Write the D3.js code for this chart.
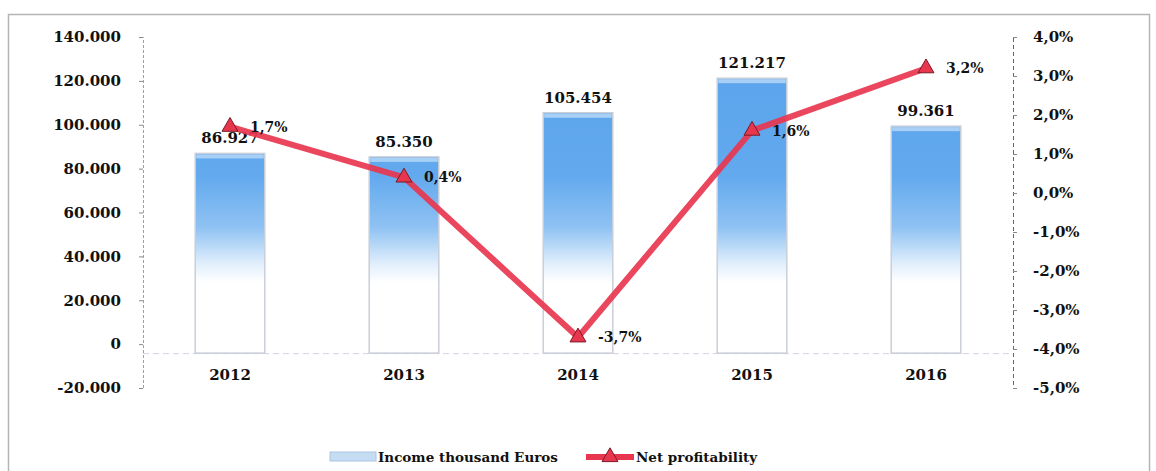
<!DOCTYPE html>
<html>
<head>
<meta charset="utf-8">
<script src="https://cdn.jsdelivr.net/npm/d3@7"></script>
<style>
  body { margin: 0; background: #fff; }
  text { font-family: "DejaVu Serif", serif; font-weight: bold; fill: #111; }
</style>
</head>
<body>
<div id="vis"></div>
<script>
// data
var years = ["2012", "2013", "2014", "2015", "2016"];
var income = [86927, 85350, 105454, 121217, 99361];
var profit = [0.017, 0.004, -0.037, 0.016, 0.032];
var incomeTicks = [-20000, 0, 20000, 40000, 60000, 80000, 100000, 120000, 140000];
var profitTicks = [-0.05, -0.04, -0.03, -0.02, -0.01, 0, 0.01, 0.02, 0.03, 0.04];
var legendLabels = ["Income thousand Euros", "Net profitability"];

var W = 1156, H = 471;
var margin = {top: 37, right: 143, bottom: 83, left: 143},
    width = W - margin.left - margin.right,
    height = H - margin.top - margin.bottom;

var loc = d3.formatLocale({decimal: ",", thousands: ".", grouping: [3], currency: ["", ""], minus: "-"});
var fmtNum = loc.format(",");
var fmtPct = loc.format(".1%");

var x = d3.scaleBand().domain(years).range([0, width]).paddingInner(0.6).paddingOuter(0.3);
var y = d3.scaleLinear().domain([-20000, 140000]).range([height, 0]);
var y2 = d3.scaleLinear().domain([-0.05, 0.04]).range([height, 0]);

var svg = d3.select("#vis").append("svg")
    .attr("width", W)
    .attr("height", H);

// frame
svg.append("rect")
    .attr("x", 8.5).attr("y", 14.5)
    .attr("width", 1141).attr("height", 460)
    .attr("fill", "none")
    .attr("stroke", "#b5b5b5")
    .attr("stroke-width", 1.5);

var g = svg.append("g")
    .attr("transform", "translate(" + margin.left + "," + margin.top + ")");

// gradient fixed to the plot, so every bar turns white at the same height
var grad = svg.append("defs").append("linearGradient")
    .attr("id", "barGrad")
    .attr("gradientUnits", "userSpaceOnUse")
    .attr("x1", 0).attr("x2", 0)
    .attr("y1", y(140000)).attr("y2", y(0));
grad.append("stop").attr("offset", "0%").attr("stop-color", "#5aa3eb");
grad.append("stop").attr("offset", "45%").attr("stop-color", "#62a9ee");
grad.append("stop").attr("offset", "62%").attr("stop-color", "#8fc2f3");
grad.append("stop").attr("offset", "74%").attr("stop-color", "#e2effc");
grad.append("stop").attr("offset", "80%").attr("stop-color", "#ffffff");
grad.append("stop").attr("offset", "100%").attr("stop-color", "#ffffff");

// baseline
g.append("line")
    .attr("x1", 0).attr("x2", width)
    .attr("y1", y(0) + 9.5).attr("y2", y(0) + 9.5)
    .attr("stroke", "#d8d0e8")
    .attr("stroke-dasharray", "6,4");

////////// bars //////////
var bar = g.selectAll(".bar")
    .data(income)
    .enter().append("g")
    .attr("class", "bar");

bar.append("rect")
    .attr("x", function(d, i) { return x(years[i]); })
    .attr("y", function(d) { return y(d); })
    .attr("width", x.bandwidth())
    .attr("height", function(d) { return y(0) - y(d) + 9; })
    .attr("fill", "url(#barGrad)")
    .attr("stroke", "#c9ced8")
    .attr("stroke-width", 1.5);

// light top edge
bar.append("rect")
    .attr("x", function(d, i) { return x(years[i]) + 1; })
    .attr("y", function(d) { return y(d) + 1; })
    .attr("width", x.bandwidth() - 2)
    .attr("height", 4)
    .attr("fill", "#a8d0f6");

////////// axes //////////
var leftAxis = g.append("g")
    .call(d3.axisLeft(y).tickValues(incomeTicks).tickFormat(fmtNum).tickSize(4).tickPadding(18));
leftAxis.select(".domain").attr("stroke", "#9a9ad0").attr("stroke-dasharray", "3,2");
leftAxis.selectAll(".tick line").attr("stroke", "#888");
leftAxis.selectAll("text").attr("font-size", 15).attr("font-family", "DejaVu Serif").attr("font-weight", "bold").attr("fill", "#111");

var rightAxis = g.append("g")
    .attr("transform", "translate(" + width + ",0)")
    .call(d3.axisRight(y2).tickValues(profitTicks).tickFormat(fmtPct).tickSize(4).tickPadding(16));
rightAxis.select(".domain").attr("stroke", "#666").attr("stroke-dasharray", "4,3");
rightAxis.selectAll(".tick line").attr("stroke", "#888");
rightAxis.selectAll("text").attr("font-size", 15).attr("font-family", "DejaVu Serif").attr("font-weight", "bold").attr("fill", "#111");

// category labels
g.selectAll(".xlab")
    .data(years)
    .enter().append("text")
    .attr("class", "xlab")
    .attr("x", function(d) { return x(d) + x.bandwidth() / 2; })
    .attr("y", y(0) + 36)
    .attr("text-anchor", "middle")
    .attr("font-size", 15)
    .text(function(d) { return d; });

// income labels
g.selectAll(".ilab")
    .data(income)
    .enter().append("text")
    .attr("class", "ilab")
    .attr("x", function(d, i) { return x(years[i]) + x.bandwidth() / 2; })
    .attr("y", function(d) { return y(d) - 10; })
    .attr("text-anchor", "middle")
    .attr("font-size", 15)
    .text(function(d) { return fmtNum(d); });

////////// line //////////
var line = d3.line()
    .x(function(d, i) { return x(years[i]) + x.bandwidth() / 2; })
    .y(function(d) { return y2(d); });

g.append("path")
    .datum(profit)
    .attr("d", line)
    .attr("fill", "none")
    .attr("stroke", "#e8364f")
    .attr("stroke-width", 6)
    .attr("stroke-linejoin", "round")
    .attr("opacity", 0.92);

var tri = d3.symbol().type(d3.symbolTriangle).size(110);
g.selectAll(".pt")
    .data(profit)
    .enter().append("path")
    .attr("class", "pt")
    .attr("transform", function(d, i) {
      return "translate(" + (x(years[i]) + x.bandwidth() / 2) + "," + y2(d) + ")";
    })
    .attr("d", tri)
    .attr("fill", "#e8364f")
    .attr("stroke", "#7a1a25")
    .attr("stroke-width", 1);

g.selectAll(".plab")
    .data(profit)
    .enter().append("text")
    .attr("class", "plab")
    .attr("x", function(d, i) { return x(years[i]) + x.bandwidth() / 2 + 20; })
    .attr("y", function(d) { return y2(d) + 5; })
    .attr("font-size", 14)
    .text(function(d) { return fmtPct(d); });

////////// legend //////////
var legend = svg.append("g").attr("transform", "translate(330,457)");
legend.append("rect")
    .attr("x", 0).attr("y", -5)
    .attr("width", 46).attr("height", 9)
    .attr("fill", "#c5dcf3")
    .attr("stroke", "#a9c5e4");
legend.append("text")
    .attr("x", 48).attr("y", 5)
    .attr("font-size", 13.5)
    .text(legendLabels[0]);

legend.append("line")
    .attr("x1", 256).attr("x2", 304)
    .attr("y1", 0).attr("y2", 0)
    .attr("stroke", "#e8364f")
    .attr("stroke-width", 6);
legend.append("path")
    .attr("transform", "translate(280,0)")
    .attr("d", tri)
    .attr("fill", "#e8364f")
    .attr("stroke", "#7a1a25")
    .attr("stroke-width", 1);
legend.append("text")
    .attr("x", 306).attr("y", 5)
    .attr("font-size", 13.5)
    .text(legendLabels[1]);
</script>
</body>
</html>
